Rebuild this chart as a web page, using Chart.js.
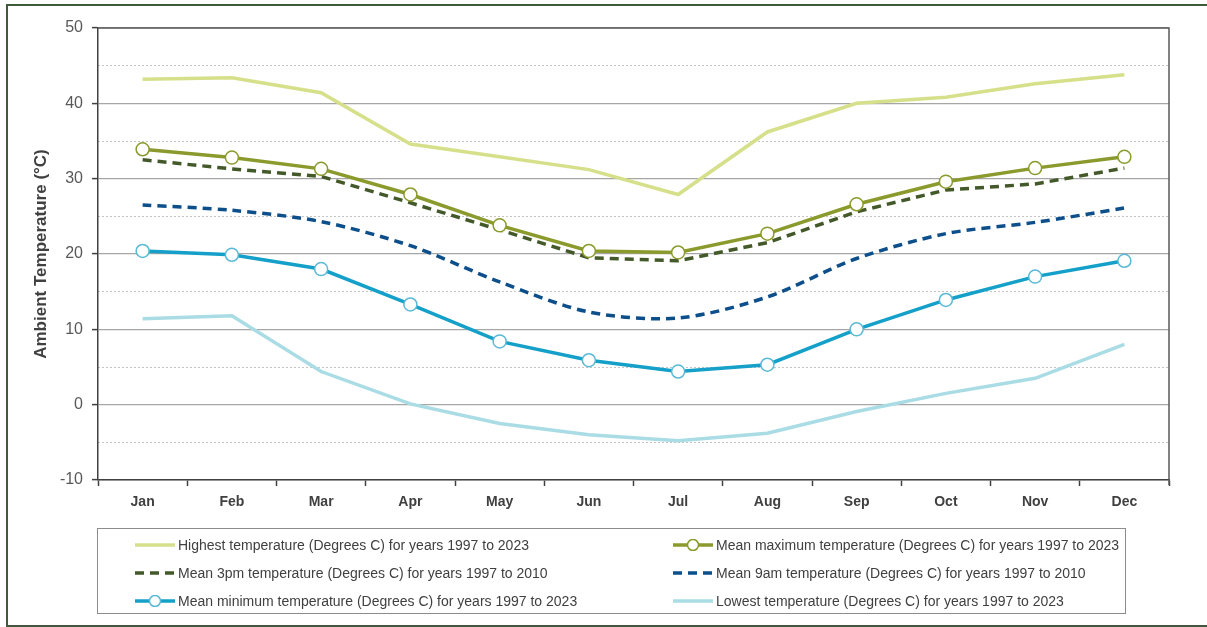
<!DOCTYPE html>
<html>
<head>
<meta charset="utf-8">
<script src="https://cdn.jsdelivr.net/npm/chart.js@4/dist/chart.umd.min.js"></script>
<style>
  html, body { margin: 0; padding: 0; background: #fff; }
  #wrap { position: relative; width: 1207px; height: 627px; overflow: hidden; font-family: "Liberation Sans", Arial, sans-serif; }
  #frame { position: absolute; left: 6px; top: 4px; width: 1220px; height: 619px; border: 2px solid #3e5a3a; box-sizing: content-box; }
  #c { position: absolute; left: 0; top: 0; }
  #legend { position: absolute; left: 97px; top: 528px; width: 1029px; height: 86px; border: 1px solid #8c8c8c; box-sizing: border-box; }
  .item { position: absolute; display: flex; align-items: center; font-size: 14px; color: #404040; white-space: nowrap; }
  .item svg { margin-right: 3px; }
</style>
</head>
<body>
<div id="wrap">
  <div id="frame"></div>
  <canvas id="c" width="1207" height="627"></canvas>
  <div id="legend"></div>
</div>
<script>
// --- ДАННЫЕ ---
const months = ['Jan', 'Feb', 'Mar', 'Apr', 'May', 'Jun', 'Jul', 'Aug', 'Sep', 'Oct', 'Nov', 'Dec'];
const highestTemp = [43.2, 43.4, 41.4, 34.6, 32.9, 31.2, 27.9, 36.2, 40.0, 40.8, 42.6, 43.8];
const meanMaxTemp = [33.9, 32.8, 31.3, 27.9, 23.8, 20.4, 20.2, 22.7, 26.6, 29.6, 31.4, 32.9];
const mean3pmTemp = [32.5, 31.3, 30.3, 26.8, 23.2, 19.5, 19.1, 21.5, 25.6, 28.5, 29.3, 31.4];
const mean9amTemp = [26.5, 25.8, 24.3, 21.1, 16.3, 12.3, 11.5, 14.3, 19.4, 22.7, 24.2, 26.1];
const meanMinTemp = [20.4, 19.9, 18.0, 13.3, 8.4, 5.9, 4.4, 5.3, 10.0, 13.9, 17.0, 19.1];
const lowestTemp = [11.4, 11.8, 4.4, 0.1, -2.5, -4.0, -4.8, -3.8, -0.9, 1.5, 3.5, 8.0];
const yTickValues = [-10, 0, 10, 20, 30, 40, 50];

// --- СЕРИИ ---
const series = [
    { label: 'Highest temperature (Degrees C) for years 1997 to 2023', data: highestTemp, color: '#d6e08a', width: 3.5, dash: [], marker: false },
    { label: 'Mean maximum temperature (Degrees C) for years 1997 to 2023', data: meanMaxTemp, color: '#8b9a2c', width: 3.5, dash: [], marker: true },
    { label: 'Mean 3pm temperature (Degrees C) for years 1997 to 2010', data: mean3pmTemp, color: '#44592a', width: 3.5, dash: [9, 6], marker: false },
    { label: 'Mean 9am temperature (Degrees C) for years 1997 to 2010', data: mean9amTemp, color: '#0d4f8b', width: 3.5, dash: [9, 6], marker: false, tension: 0.3 },
    { label: 'Mean minimum temperature (Degrees C) for years 1997 to 2023', data: meanMinTemp, color: '#14a0c8', width: 3.5, dash: [], marker: true, markerBorder: '#5ab9d6' },
    { label: 'Lowest temperature (Degrees C) for years 1997 to 2023', data: lowestTemp, color: '#a9dce4', width: 3.5, dash: [], marker: false }
];

const datasets = series.map(s => ({
    label: s.label,
    data: s.data,
    borderColor: s.color,
    backgroundColor: '#ffffff',
    borderWidth: s.width,
    borderDash: s.dash,
    tension: s.tension || 0,
    fill: false,
    pointRadius: s.marker ? 6.5 : 0,
    pointBorderWidth: 1.5,
    pointBorderColor: s.markerBorder || s.color,
    pointBackgroundColor: '#ffffff'
}));

// рамка области графика (сверху и справа)
const plotFrame = {
    id: 'plotFrame',
    beforeDatasetsDraw(chart) {
        const { ctx, chartArea: a } = chart;
        ctx.save();
        ctx.strokeStyle = '#595959';
        ctx.lineWidth = 1.5;
        ctx.beginPath();
        ctx.moveTo(a.left, a.top);
        ctx.lineTo(a.right, a.top);
        ctx.lineTo(a.right, a.bottom + 5);
        ctx.stroke();
        ctx.restore();
    }
};

const ctx = document.getElementById('c').getContext('2d');
new Chart(ctx, {
    type: 'line',
    data: { labels: months, datasets: datasets },
    plugins: [plotFrame],
    options: {
        responsive: false,
        animation: false,
        layout: { padding: { top: 28, right: 38, bottom: 117, left: 0 } },
        plugins: { legend: { display: false }, tooltip: { enabled: false } },
        scales: {
            x: {
                offset: true,
                grid: { offset: true, drawOnChartArea: false, tickLength: 6, tickColor: '#404040', tickWidth: 1.5 },
                border: { color: '#404040', width: 1.5 },
                ticks: { color: '#404040', font: { family: 'Liberation Sans', size: 14, weight: 'bold' }, padding: 8 },
                afterFit: scale => { scale.height = 30; }
            },
            y2: {
                position: 'left',
                min: -10, max: 50,
                ticks: { display: false, stepSize: 5 },
                grid: {
                    drawTicks: false,
                    color: c => (c.tick && Math.abs(c.tick.value) % 10 === 5) ? '#c4c4c4' : 'rgba(0,0,0,0)',
                    lineWidth: 1
                },
                border: { display: false, dash: [2, 2] },
                afterFit: scale => { scale.width = 0; }
            },
            y: {
                position: 'left',
                min: -10, max: 50,
                afterBuildTicks: scale => { scale.ticks = yTickValues.map(v => ({ value: v })); },
                ticks: { color: '#595959', font: { family: 'Liberation Sans', size: 16 }, padding: 9 },
                grid: { color: '#a6a6a6', lineWidth: 1.2, tickLength: 6, tickColor: '#404040', tickWidth: 1.5 },
                border: { color: '#404040', width: 1.5 },
                title: {
                    display: true,
                    text: 'Ambient Temperature (°C)',
                    color: '#404040',
                    font: { family: 'Liberation Sans', size: 17, weight: 'bold' },
                    padding: { top: 31, bottom: 0 }
                },
                afterFit: scale => { scale.width = 98; }
            }
        }
    }
});

// --- ЛЕГЕНДА (HTML) ---
const legendBox = document.getElementById('legend');
const colX = [37, 575];
const rowY = [16, 44, 72];
series.forEach((s, i) => {
    const item = document.createElement('div');
    item.className = 'item';
    item.style.left = colX[i % 2] + 'px';
    item.style.top = (rowY[Math.floor(i / 2)] - 9) + 'px';
    item.style.height = '18px';
    const dashAttr = s.dash.length ? ` stroke-dasharray="${s.dash.join(',')}"` : '';
    const marker = s.marker ? `<circle cx="20" cy="6" r="5.5" fill="#fff" stroke="${s.markerBorder || s.color}" stroke-width="1.5"/>` : '';
    item.innerHTML = `<svg width="40" height="12"><line x1="0" y1="6" x2="40" y2="6" stroke="${s.color}" stroke-width="3.5"${dashAttr}/>${marker}</svg><span>${s.label}</span>`;
    legendBox.appendChild(item);
});
</script>
</body>
</html>
